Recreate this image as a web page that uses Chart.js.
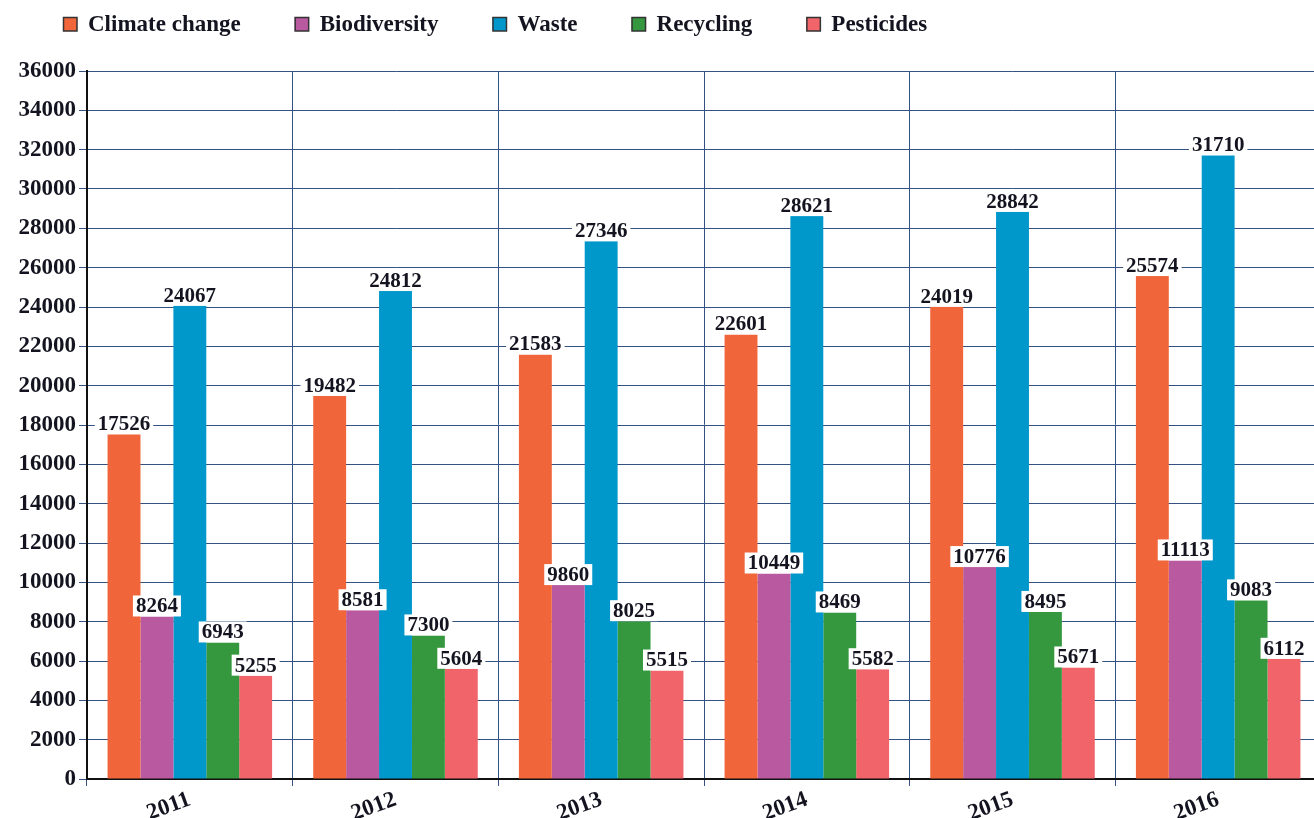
<!DOCTYPE html>
<html>
<head>
<meta charset="utf-8">
<script src="https://cdn.jsdelivr.net/npm/chart.js@4.4.0/dist/chart.umd.min.js"></script>
<style>
html,body{margin:0;padding:0;background:#fff;overflow:hidden;width:1314px;height:818px;}
#wrap{position:absolute;left:0;top:0;width:1322px;height:818px;}
</style>
</head>
<body>
<div id="wrap"><canvas id="c" width="1322" height="818"></canvas></div>
<script>
const categories = ['2011','2012','2013','2014','2015','2016'];
const seriesNames = ['Climate change','Biodiversity','Waste','Recycling','Pesticides'];
const climateChange = [17526, 19482, 21583, 22601, 24019, 25574];
const biodiversity = [8264, 8581, 9860, 10449, 10776, 11113];
const waste = [24067, 24812, 27346, 28621, 28842, 31710];
const recycling = [6943, 7300, 8025, 8469, 8495, 9083];
const pesticides = [5255, 5604, 5515, 5582, 5671, 6112];
const colors = ['#F0663A', '#B95AA1', '#0097CB', '#35983F', '#F0646A'];

const FONT = "'Liberation Serif', 'Times New Roman', serif";
const TEXT = '#141420';
const GRID = '#34527f';

const allSeries = [climateChange, biodiversity, waste, recycling, pesticides];

const labelPlugin = {
  id: 'valueLabels',
  afterDatasetsDraw(chart) {
    const ctx = chart.ctx;
    ctx.save();
    ctx.font = 'bold 21px ' + FONT;
    ctx.textAlign = 'center';
    ctx.textBaseline = 'middle';
    chart.data.datasets.forEach((ds, di) => {
      const meta = chart.getDatasetMeta(di);
      meta.data.forEach((bar, i) => {
        const txt = String(ds.data[i]);
        const w = ctx.measureText(txt).width + 6;
        const h = 21;
        const cx = bar.x;
        const bottom = bar.y;
        ctx.fillStyle = '#ffffff';
        ctx.fillRect(cx - w / 2, bottom - h, w, h);
        ctx.fillStyle = TEXT;
        ctx.fillText(txt, cx, bottom - h / 2 + 1);
      });
    });
    ctx.restore();
  }
};

const legendPlugin = {
  id: 'topLegend',
  afterDraw(chart) {
    const ctx = chart.ctx;
    ctx.save();
    ctx.font = 'bold 23px ' + FONT;
    ctx.textBaseline = 'middle';
    ctx.textAlign = 'left';
    let x = 63;
    const cy = 24;
    chart.data.datasets.forEach((ds) => {
      ctx.fillStyle = ds.backgroundColor;
      ctx.fillRect(x, cy - 7, 14, 14);
      ctx.strokeStyle = '#333333';
      ctx.lineWidth = 1.5;
      ctx.strokeRect(x + 0.5, cy - 6.5, 13.5, 13.5);
      ctx.fillStyle = TEXT;
      ctx.fillText(ds.label, x + 25, cy + 1);
      x += 25 + ctx.measureText(ds.label).width + 54;
    });
    ctx.restore();
  }
};

new Chart(document.getElementById('c'), {
  type: 'bar',
  data: {
    labels: categories,
    datasets: seriesNames.map((name, k) => ({
      label: name,
      data: allSeries[k],
      backgroundColor: colors[k],
      borderWidth: 0,
      categoryPercentage: 0.8,
      barPercentage: 1.0
    }))
  },
  options: {
    responsive: false,
    animation: false,
    devicePixelRatio: 1,
    layout: { padding: { top: 71, right: 1, left: 0, bottom: 0 } },
    plugins: {
      legend: { display: false },
      tooltip: { enabled: false }
    },
    scales: {
      x: {
        offset: true,
        grid: { display: true, offset: true, color: GRID, lineWidth: 1, tickLength: 7, drawOnChartArea: true },
        border: { display: true, color: '#111111', width: 2 },
        ticks: {
          color: TEXT,
          font: { family: FONT, size: 23, weight: 'bold' },
          minRotation: 20,
          maxRotation: 20,
          padding: 0
        },
        afterFit(scale) { scale.height = 39; }
      },
      y: {
        min: 0,
        max: 36000,
        grid: { color: GRID, lineWidth: 1, tickLength: 8 },
        border: { display: true, color: '#111111', width: 2 },
        ticks: {
          stepSize: 2000,
          color: TEXT,
          font: { family: FONT, size: 23, weight: 'bold' },
          padding: 3,
          callback: (v) => String(v)
        },
        afterFit(scale) { scale.width = 87; }
      }
    }
  },
  plugins: [labelPlugin, legendPlugin]
});
</script>
</body>
</html>
